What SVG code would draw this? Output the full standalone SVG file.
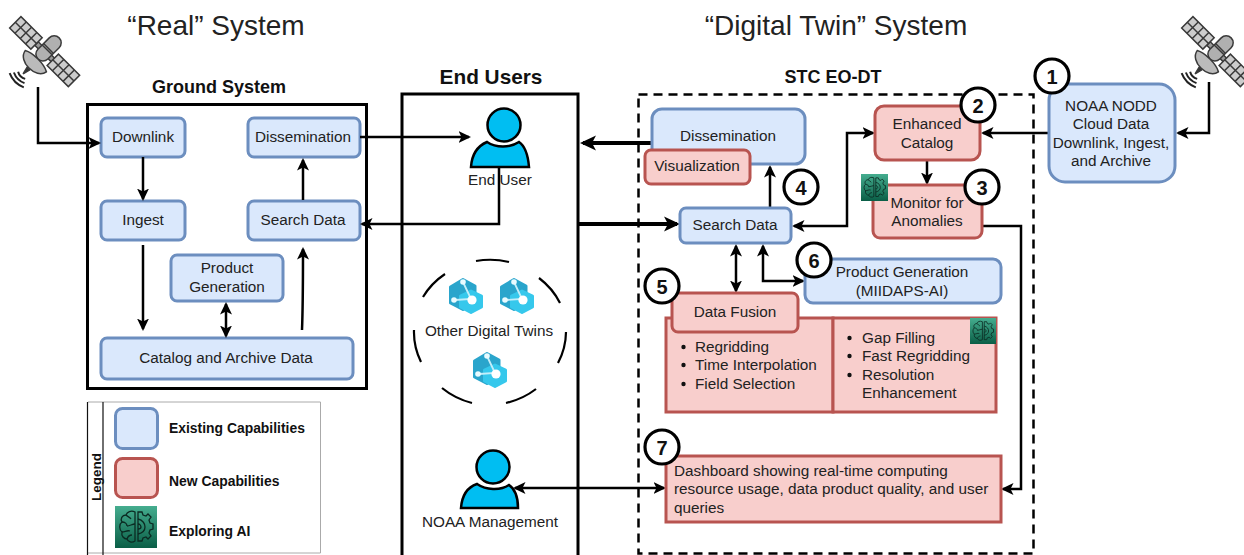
<svg xmlns="http://www.w3.org/2000/svg" width="1244" height="555" viewBox="0 0 1244 555">
<style>
text{font-family:"Liberation Sans",Arial,sans-serif;fill:#222;font-size:15.3px}
.m{text-anchor:middle}
.b{font-weight:bold;fill:#111}
.blue{fill:#dae8fc;stroke:#6c8ebf;stroke-width:3}
.red{fill:#f8cecc;stroke:#b85450;stroke-width:3}
.frame{fill:#fff;stroke:#000;stroke-width:3}
.c{fill:none;stroke:#000;stroke-width:2.5}
.thick{stroke-width:4}
.a{marker-end:url(#arr)}
.at{marker-end:url(#arrT)}
.aa{marker-start:url(#arr);marker-end:url(#arr)}
.num{fill:#fff;stroke:#000;stroke-width:3.2}
.numt{font-size:20px;font-weight:bold;text-anchor:middle;fill:#111}
.person{fill:#00bef2;stroke:#000;stroke-width:2.5}
.dash{fill:none;stroke:#000;stroke-width:2.2}
.leg{font-size:13.9px}
</style>
<defs>
<marker id="arr" markerUnits="userSpaceOnUse" markerWidth="16" markerHeight="16" refX="10.500" refY="8" orient="auto-start-reverse">
<path d="M12.500,8 L0,2 L3,8 L0,14 Z" fill="#000"/>
</marker>
<marker id="arrT" markerUnits="userSpaceOnUse" markerWidth="20" markerHeight="20" refX="13" refY="10" orient="auto">
<path d="M16,10 L0,2.500 L4,10 L0,17.500 Z" fill="#000"/>
</marker>
<linearGradient id="g" x1="0" y1="0" x2="0" y2="1"><stop offset="0" stop-color="#45ad8f"/><stop offset="1" stop-color="#0a5e46"/></linearGradient>
<symbol id="brain" viewBox="0 0 42 42">
<rect width="42" height="42" fill="url(#g)"/>
<g fill="none" stroke="#0b2a22" stroke-width="1.300">
<path d="M20,6 C16,4 12,6 11,9 C7,9 5,13 7,16 C4,18 4,24 7,26 C6,30 9,33 12,33 C13,36 17,37 20,35 Z"/>
<path d="M7,16 C10,16 12,18 12,20 M11,9 C13,11 15,11 16,13 M7,26 C10,26 12,24 15,25 M12,33 C13,30 15,29 17,29 M20,18 C17,18 15,20 12,20"/>
<path d="M23,6 L27,6 L28,9 L31,10 L33,8 L36,11 L34,14 L35,17 L38,18 L38,23 L35,24 L34,27 L36,30 L33,33 L31,31 L28,32 L27,35 L23,35 Z"/>
<path d="M23,13 C28,14 30,18 30,21 C30,24 28,27 23,28 M23,18 C25,18 26,20 26,21 C26,22 25,23 23,23"/>
</g>
</symbol>
<symbol id="twin" viewBox="0 0 34 36" overflow="visible">
<path d="M14,1.500 L26,8 L26,25 L14,31.500 L1.500,25 L1.500,9 Z" fill="#2aa5cc" stroke="#2aa5cc" stroke-width="3" stroke-linejoin="round"/>
<path d="M22,13 L32.500,18 L32.500,29 L22,34.500 L11.500,29 L11.500,18 Z" fill="#36c8ec" stroke="#36c8ec" stroke-width="3" stroke-linejoin="round"/>
<path d="M14,4 L22,21 L6,22" fill="none" stroke="#c4eefa" stroke-width="1.800"/>
<circle cx="14" cy="4" r="2.800" fill="#e9fbff"/><circle cx="5" cy="22" r="2.800" fill="#e9fbff"/><circle cx="23" cy="22" r="4.600" fill="#fff"/>
</symbol>
<g id="sat">
<g transform="rotate(45)">
<g fill="#ccc" stroke="#3a3a3a" stroke-width="1.500">
<rect x="-12" y="-2.500" width="26" height="5" fill="#999"/>
<rect x="-42" y="-8" width="30" height="16"/>
<rect x="11" y="-8" width="30" height="16"/>
<path d="M-34.500,-8V8M-27,-8V8M-19.500,-8V8M-42,0H-12M18.500,-8V8M26,-8V8M33.500,-8V8M11,0H41" fill="none"/>
<rect x="-7" y="-20" width="14" height="30" rx="7" fill="#b0b0b0"/>
<path d="M-7,-5H7M-7,-3H7" fill="none"/>
<path d="M-15,13 C-13,26 13,26 15,13 C8,9 -8,9 -15,13 Z" fill="#bbb"/>
<path d="M-2,23 L0,31 L2,23" fill="#333"/>
</g>
<g fill="none" stroke="#222" stroke-width="2">
<path d="M-5,33 Q0,36 5,33M-7.500,36.500 Q0,40 7.500,36.500M-10,40 Q0,44.500 10,40"/>
</g>
</g>
</g>
</defs>

<text class="m" x="216" y="35" style="font-size:28px">“Real” System</text>
<text class="m" x="836" y="35" style="font-size:28px">“Digital Twin” System</text>

<g id="satellite-left"><use href="#sat" x="45" y="52"/></g>
<g id="satellite-right"><use href="#sat" x="1217" y="52"/></g>

<g id="ground-system">
<text class="m b" x="219" y="93" style="font-size:18px">Ground System</text>
<rect class="frame" x="87.500" y="104.500" width="279" height="284"/>
</g>
<g id="end-users">
<text class="m b" x="491" y="84" style="font-size:20.800px">End Users</text>
<rect class="frame" x="402" y="94" width="176" height="470"/>
</g>
<g id="stc-eo-dt">
<text class="m b" x="833" y="83" style="font-size:18px">STC EO-DT</text>
<rect x="638.500" y="94.500" width="395" height="459" fill="none" stroke="#000" stroke-width="2.500" stroke-dasharray="9 6"/>
</g>

<g id="legend">
<path d="M88,402H320.500V553H88" fill="#fff" stroke="#aaa" stroke-width="1"/>
<path d="M87.500,402V555M103,402V555" fill="none" stroke="#111" stroke-width="1.200"/>
<text class="m b" transform="translate(101,477) rotate(-90)" style="font-size:13.500px">Legend</text>
<rect class="blue" x="115.500" y="408.500" width="42" height="40" rx="7"/>
<rect class="red" x="115.500" y="458.500" width="42" height="39" rx="7"/>
<use href="#brain" x="115" y="506" width="42" height="42"/>
<text class="b leg" x="169" y="433">Existing Capabilities</text>
<text class="b leg" x="169" y="486">New Capabilities</text>
<text class="b leg" x="169" y="536">Exploring AI</text>
</g>

<g id="gs-downlink"><rect class="blue" x="101" y="118" width="84" height="39" rx="6"/><text class="m" x="143" y="142">Downlink</text></g>
<g id="gs-dissemination"><rect class="blue" x="248" y="118" width="112" height="39" rx="6"/><text class="m" x="303" y="142">Dissemination</text></g>
<g id="gs-ingest"><rect class="blue" x="101" y="201" width="84" height="39" rx="6"/><text class="m" x="143" y="225">Ingest</text></g>
<g id="gs-search"><rect class="blue" x="248" y="201" width="112" height="39" rx="6"/><text class="m" x="303" y="225">Search Data</text></g>
<g id="gs-product"><rect class="blue" x="171" y="255" width="112" height="46" rx="6"/><text class="m" x="227" y="273">Product</text><text class="m" x="227" y="292">Generation</text></g>
<g id="gs-catalog"><rect class="blue" x="101" y="338" width="252" height="41" rx="6"/><text class="m" x="226" y="363">Catalog and Archive Data</text></g>

<g id="end-user"><path class="person" d="M471,167 C472,152 480,145 487,142 C496,148 510,148 519,142 C525,146 528,155 529,167 Z"/><circle class="person" cx="504" cy="125" r="16.500"/><text class="m" x="500" y="185">End User</text></g>
<g id="noaa-management"><path class="person" d="M461,508 C462,495 468,487 477,484 C486,490 500,491 509,485 C515,489 518,498 518,508 Z"/><circle class="person" cx="493" cy="467" r="16.500"/><text class="m" x="490" y="527">NOAA Management</text></g>

<g id="other-twins">
<path class="dash" d="M476,261 A76,71 0 0 1 509,262 M539,278 A76,71 0 0 1 560,303 M566,332 A76,71 0 0 1 558,363 M536,389 A76,71 0 0 1 506,403 M472,403 A76,71 0 0 1 442,388 M421,362 A76,71 0 0 1 414,330 M423,297 A76,71 0 0 1 445,274"/>
<use href="#twin" x="449" y="278" width="34" height="36"/>
<use href="#twin" x="500" y="278" width="34" height="36"/>
<use href="#twin" x="473" y="352" width="34" height="36"/>
<text class="m" x="489" y="336">Other Digital Twins</text>
</g>

<g id="connectors">
<path class="c a" d="M38,87V143H99"/>
<path class="c a" d="M143,157V199"/>
<path class="c a" d="M143,245V329"/>
<path class="c a" d="M302,330C303,305 303,280 303,249"/>
<path class="c a" d="M303,200V160"/>
<path class="c aa" d="M226,304V336"/>
<path class="c a" d="M360,137H469"/>
<path class="c a" d="M499,167V224H362"/>
<path class="c at thick" d="M652,143H583"/>
<path class="c at thick" d="M578,224H677"/>
<path class="c a" d="M770,207V167"/>
<path class="c aa" d="M794,226H847V133H873"/>
<path class="c a" d="M927,160V183"/>
<path class="c a" d="M1049,133H983"/>
<path class="c a" d="M1209,82V133H1178"/>
<path class="c a" d="M982,226H1021V489H1003"/>
<path class="c aa" d="M736,246V291"/>
<path class="c aa" d="M763,246V281H803"/>
<path class="c aa" d="M515,488H664"/>
</g>

<g id="dt-dissemination"><rect class="blue" x="652" y="109" width="153" height="55" rx="10"/><text class="m" x="728" y="141">Dissemination</text></g>
<g id="dt-visualization"><rect class="red" x="645" y="150" width="105" height="34" rx="6"/><text class="m" x="697" y="171">Visualization</text></g>
<g id="dt-search"><rect class="blue" x="680" y="208" width="111" height="35" rx="6"/><text class="m" x="735" y="230">Search Data</text></g>
<g id="dt-catalog"><rect class="red" x="875" y="106" width="105" height="54" rx="9"/><text class="m" x="927" y="129">Enhanced</text><text class="m" x="927" y="148">Catalog</text></g>
<g id="dt-monitor"><rect class="red" x="873" y="185" width="109" height="53" rx="7"/><text class="m" x="927" y="208">Monitor for</text><text class="m" x="927" y="226">Anomalies</text><use href="#brain" x="861" y="174" width="27" height="27"/></g>
<g id="noaa-nodd"><rect class="blue" x="1049" y="84" width="126" height="98" rx="16"/><text class="m" x="1111" y="111">NOAA NODD</text><text class="m" x="1111" y="129">Cloud Data</text><text class="m" x="1111" y="148">Downlink, Ingest,</text><text class="m" x="1111" y="166">and Archive</text></g>
<g id="dt-product"><rect class="blue" x="805" y="259" width="196" height="44" rx="8"/><text class="m" x="902" y="277">Product Generation</text><text class="m" x="902" y="296">(MIIDAPS-AI)</text></g>
<g id="dt-fusion">
<rect x="666" y="318" width="167" height="94" fill="#f8cecc" stroke="#b85450" stroke-width="3"/>
<rect x="833" y="318" width="163" height="94" fill="#f8cecc" stroke="#b85450" stroke-width="3"/>
<rect class="red" x="672" y="293" width="126" height="39" rx="6"/>
<text class="m" x="735" y="317">Data Fusion</text>
<g fill="#111"><circle cx="683.500" cy="347" r="2.200"/><circle cx="683.500" cy="365" r="2.200"/><circle cx="683.500" cy="384" r="2.200"/><circle cx="849.500" cy="338" r="2.200"/><circle cx="849.500" cy="356" r="2.200"/><circle cx="849.500" cy="375" r="2.200"/></g>
<text x="695" y="352">Regridding</text><text x="695" y="370">Time Interpolation</text><text x="695" y="389">Field Selection</text>
<text x="862" y="343">Gap Filling</text><text x="862" y="361">Fast Regridding</text><text x="862" y="380">Resolution</text><text x="862" y="398">Enhancement</text>
<use href="#brain" x="970" y="318" width="26" height="26"/>
</g>
<g id="dt-dashboard"><rect x="666" y="456" width="335" height="66" fill="#f8cecc" stroke="#b85450" stroke-width="3"/><text x="674" y="476">Dashboard showing real-time computing</text><text x="674" y="494">resource usage, data product quality, and user</text><text x="674" y="513">queries</text></g>

<g id="badges">
<circle class="num" cx="1052" cy="76" r="17"/><text class="numt" x="1052" y="84">1</text>
<circle class="num" cx="978" cy="105" r="17"/><text class="numt" x="978" y="113">2</text>
<circle class="num" cx="982" cy="187" r="17"/><text class="numt" x="982" y="195">3</text>
<circle class="num" cx="801" cy="187" r="17"/><text class="numt" x="801" y="195">4</text>
<circle class="num" cx="662" cy="286" r="17"/><text class="numt" x="662" y="294">5</text>
<circle class="num" cx="814" cy="260" r="17"/><text class="numt" x="814" y="268">6</text>
<circle class="num" cx="662" cy="447" r="17"/><text class="numt" x="662" y="455">7</text>
</g>
</svg>
